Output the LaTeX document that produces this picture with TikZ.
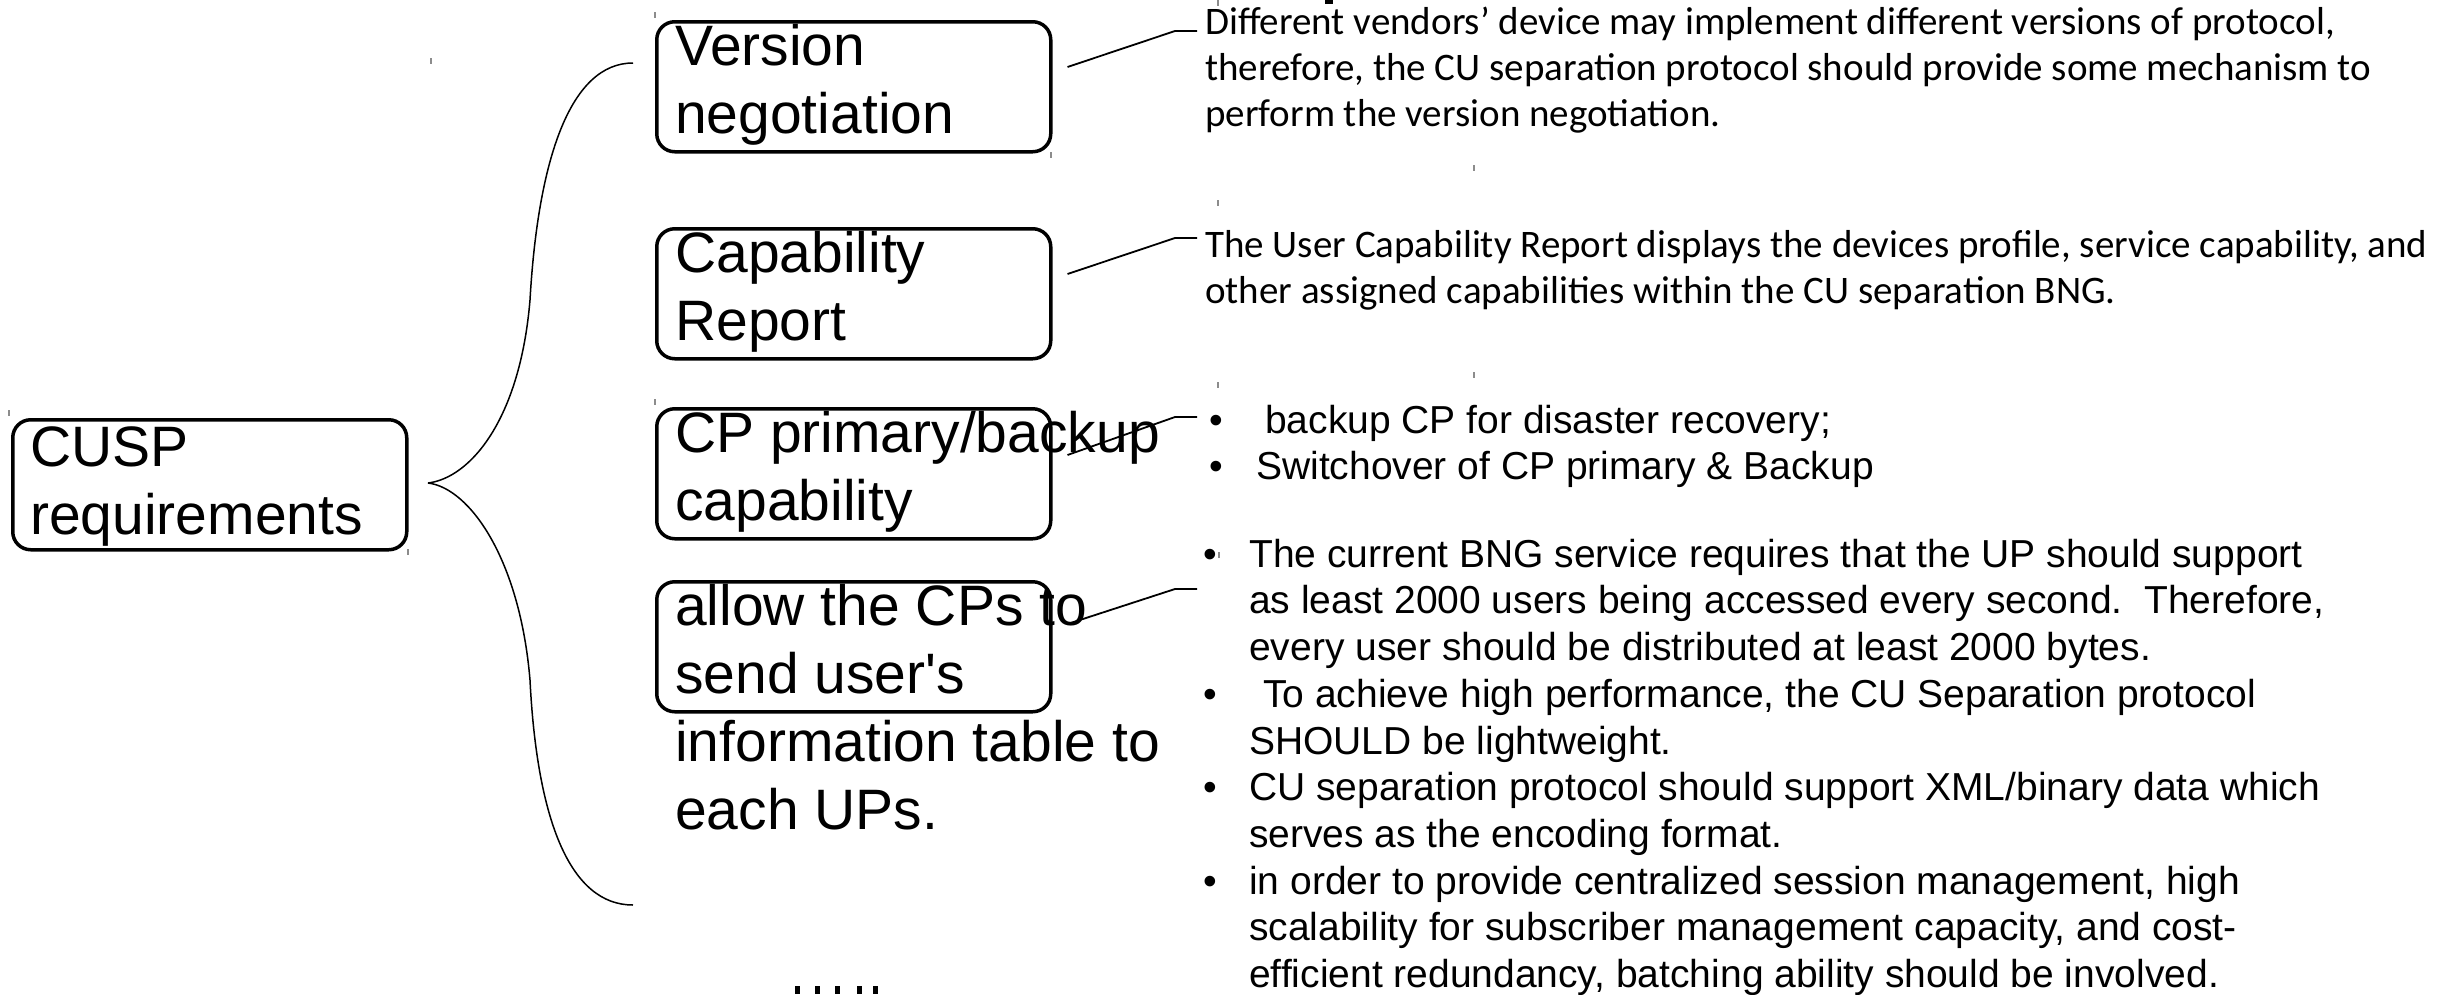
\documentclass[tikz,border=0pt]{standalone}
\usepackage{fontspec}
\setmainfont{Liberation Sans}
\newfontfamily\notefont{Carlito}
\usetikzlibrary{calc}
\newcommand\tstrut[1]{\rule{0pt}{#1}}
\begin{document}
\begin{tikzpicture}[x=1pt,y=-1pt,
  box/.style={draw,line width=3.5pt,rounded corners=18pt,inner sep=0pt,anchor=north west,
              minimum width=394pt,minimum height=130pt},
  boxtext/.style={anchor=north west,inner sep=0pt,align=left,font=\fontsize{57}{68}\selectfont},
  note/.style={anchor=north west,inner sep=0pt,align=left,font=\notefont\fontsize{39}{46}\selectfont},
  bullets/.style={anchor=north west,inner sep=0pt,align=left,font=\fontsize{39}{46.7}\selectfont},
  conn/.style={line width=1.8pt},
  brace/.style={line width=1.5pt},
  tick/.style={line width=1.2pt,black!45}]
% canvas
\useasboundingbox (0,0) rectangle (2458,994);
\fill[white] (0,0) rectangle (2458,994);

% root box and the four requirement boxes
\node[box] (root) at (11,418) {};
\node[boxtext] (roottxt) at (30,409) {\tstrut{57pt}CUSP\\requirements};

\node[box] (vbox) at (655,20) {};
\node[box] (cbox) at (655,227) {};
\node[box] (pbox) at (655,407) {};
\node[box] (abox) at (655,580) {};

\node[boxtext] (vtxt) at (675,8) {\tstrut{57pt}Version\\negotiation};
\node[boxtext] (ctxt) at (675,215) {\tstrut{57pt}Capability\\Report};
\node[boxtext] (ptxt) at (675,395) {\tstrut{57pt}CP primary/backup\\capability};
\node[boxtext] (atxt) at (675,568) {\tstrut{57pt}allow the CPs to\\send user\textquotesingle s\\information table to\\each UPs.};

% brace from the root to the requirement column
\coordinate (tip) at (428,483);
\coordinate (btop) at (633,63);
\coordinate (bbot) at (633,905);
\draw[brace] (tip) .. controls (470,478) and (520,420) .. (530,300)
             .. controls (538,160) and (570,63) .. (btop);
\draw[brace] (tip) .. controls (470,488) and (520,560) .. (530,680)
             .. controls (537,820) and (570,905) .. (bbot);

% descriptions
\node[note] (vnote) at (1205,-5) {\tstrut{39pt}Different vendors’ device may implement different versions of protocol,\\
therefore, the CU separation protocol should provide some mechanism to\\
perform the version negotiation.};
\node[note] (cnote) at (1205,218) {\tstrut{39pt}The User Capability Report displays the devices profile, service capability, and\\
other assigned capabilities within the CU separation BNG.};
\node[bullets] (pnote) at (1209,394) {\tstrut{39pt}\makebox[56pt][l]{•}backup CP for disaster recovery;\\
\makebox[47pt][l]{•}Switchover of CP primary \& Backup};
\node[bullets] (anote) at (1203,528) {\tstrut{39pt}\makebox[46pt][l]{•}The current BNG service requires that the UP should support\\
\hspace*{46pt}as least 2000 users being accessed every second.\ \ Therefore,\\
\hspace*{46pt}every user should be distributed at least 2000 bytes.\\
\makebox[60pt][l]{•}To achieve high performance, the CU Separation protocol\\
\hspace*{46pt}SHOULD be lightweight.\\
\makebox[46pt][l]{•}CU separation protocol should support XML/binary data which\\
\hspace*{46pt}serves as the encoding format.\\
\makebox[46pt][l]{•}in order to provide centralized session management, high\\
\hspace*{46pt}scalability for subscriber management capacity, and cost-\\
\hspace*{46pt}efficient redundancy, batching ability should be involved.};

% leader lines from boxes to their descriptions
\coordinate (vj) at (1175,31);  \coordinate (ve) at (1197,31);
\coordinate (cj) at (1175,238); \coordinate (ce) at (1197,238);
\coordinate (pj) at (1175,417); \coordinate (pe) at (1197,417);
\coordinate (aj) at (1175,589); \coordinate (ae) at (1197,589);
\draw[conn] ($(vbox.north east)+(15,47)$) -- (vj) -- (ve);
\draw[conn] ($(cbox.north east)+(15,47)$) -- (cj) -- (ce);
\draw[conn] ($(pbox.north east)+(15,48)$) -- (pj) -- (pe);
\draw[conn] ($(abox.north east)+(15,44)$) -- (aj) -- (ae);

% clipped glyph fragments at the page edges
\fill (1325,0) rectangle (1333,4);
\foreach \x in {795,815,835,857,873} \fill (\x,986) rectangle ++(5,8);

% small frame marks
\foreach \p in {(431,58),(1474,165),(1218,200),(1474,372),(1218,382),(1219,552),
                (655,12),(655,399),(9,410),(1051,152),(408,549),(1218,0)}
  \draw[tick] \p -- ++(0,6);
\end{tikzpicture}
\end{document}
